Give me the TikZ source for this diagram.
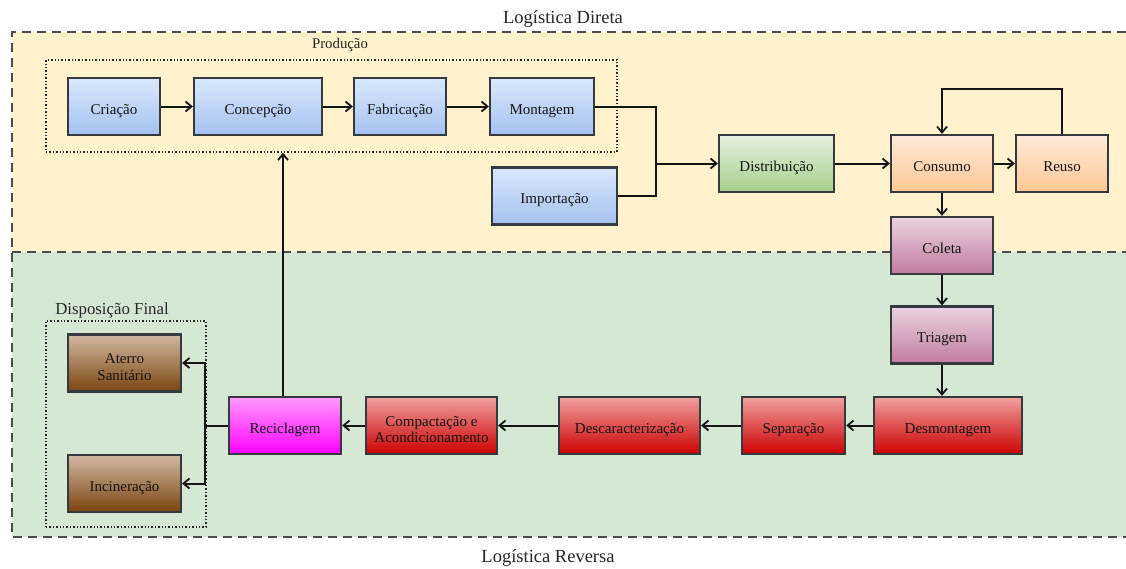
\documentclass[tikz,border=0pt]{standalone}
\usepackage{fontspec}
\setmainfont{Liberation Serif}
\usetikzlibrary{arrows.meta}
\definecolor{bordc}{HTML}{36393D}
\definecolor{yelbg}{HTML}{FFF2CC}
\definecolor{grnbg}{HTML}{D5E8D4}
\definecolor{bluet}{HTML}{DAE8FC}
\definecolor{blueb}{HTML}{A4C2F0}
\definecolor{grnt}{HTML}{E4F0DF}
\definecolor{grnb}{HTML}{A8D08D}
\definecolor{orat}{HTML}{FFEBD9}
\definecolor{orab}{HTML}{FFC794}
\definecolor{purt}{HTML}{EAD3E2}
\definecolor{purb}{HTML}{C27BA0}
\definecolor{redt}{HTML}{F0A0A0}
\definecolor{redb}{HTML}{CC0000}
\definecolor{brnt}{HTML}{D2B8A2}
\definecolor{brnb}{HTML}{7A4510}
\definecolor{magt}{HTML}{FF9CFF}
\definecolor{magb}{HTML}{FF00FF}
\newcommand{\twolines}[2]{\raisebox{-5.5pt}[\height][\depth]{\begin{tabular}{@{}c@{}}#1\\#2\end{tabular}}}
\tikzset{
  box/.style={draw=bordc, line width=2.2pt, inner sep=1pt, align=center,
    font=\fontsize{15}{16.5}\selectfont, text=black!92},
  one/.style={text height=15pt, text depth=0pt},
  bluebox/.style={box, top color=bluet, bottom color=blueb},
  greenbox/.style={box, top color=grnt, bottom color=grnb},
  orangebox/.style={box, top color=orat, bottom color=orab},
  purplebox/.style={box, top color=purt, bottom color=purb},
  redbox/.style={box, top color=redt, bottom color=redb},
  brownbox/.style={box, top color=brnt, bottom color=brnb},
  magbox/.style={box, top color=magt, bottom color=magb},
  dotbox/.style={draw=black!85, line width=1.4pt, dotted, inner sep=0pt},
  zone/.style={draw=black!70, line width=1.8pt, dash pattern=on 9pt off 6pt},
  arr/.style={line width=2pt, draw=black!92, -{Straight Barb[length=6pt,width=10pt,line width=1.8pt]}},
  ln/.style={line width=2pt, draw=black!92},
  lbl/.style={font=\fontsize{14.8}{16}\selectfont, text=black!85, inner sep=0pt},
  title/.style={font=\fontsize{18.5}{20}\selectfont, text=black!85, inner sep=0pt}
}
\begin{document}
\begin{tikzpicture}[x=1pt,y=-1pt]
\useasboundingbox (0,0) rectangle (1126,568);
% zones
\fill[yelbg] (12,32) rectangle (1126,252);
\fill[grnbg] (12,252) rectangle (1126,537);
\draw[zone] (1126,32) -- (12,32) -- (12,537) -- (1126,537);
\draw[zone] (12,252) -- (1126,252);
\node[title] (tdir) at (563,19) {Logística Direta};
\node[title] (trev) at (548,558) {Logística Reversa};
% production group
\node[dotbox, minimum width=571pt, minimum height=92pt] (prod) at (331.5,106) {};
\node[lbl] (lprod) at (340,45) {Produção};
\node[bluebox, one, minimum width=92pt, minimum height=57pt] (cri) at (114,106.5) {Criação};
\node[bluebox, one, minimum width=128pt, minimum height=57pt] (con) at (258,106.5) {Concepção};
\node[bluebox, one, minimum width=92pt, minimum height=57pt] (fab) at (400,106.5) {Fabricação};
\node[bluebox, one, minimum width=104pt, minimum height=57pt] (mon) at (542,106.5) {Montagem};
\node[bluebox, one, minimum width=125pt, minimum height=57pt] (imp) at (554.5,196) {Importação};
\node[greenbox, one, minimum width=115pt, minimum height=57pt] (dis) at (776.5,163.5) {Distribuição};
\node[orangebox, one, minimum width=102pt, minimum height=57pt] (cons) at (942,163.5) {Consumo};
\node[orangebox, one, minimum width=92pt, minimum height=57pt] (reu) at (1062,163.5) {Reuso};
\node[purplebox, one, minimum width=102pt, minimum height=57pt] (col) at (942,245.5) {Coleta};
\node[purplebox, one, minimum width=102pt, minimum height=57pt] (tri) at (942,335) {Triagem};
\node[redbox, one, minimum width=148pt, minimum height=57pt] (desm) at (948,425.5) {Desmontagem};
\node[redbox, one, minimum width=103pt, minimum height=57pt] (sep) at (793.5,425.5) {Separação};
\node[redbox, one, minimum width=141pt, minimum height=57pt] (desc) at (629.5,425.5) {Descaracterização};
\node[redbox, minimum width=131pt, minimum height=57pt] (comp) at (431.5,425.5) {\twolines{Compactação e}{Acondicionamento}};
\node[magbox, one, minimum width=112pt, minimum height=57pt] (rec) at (285,425.5) {Reciclagem};
% disposal group
\node[dotbox, minimum width=160pt, minimum height=206pt] (disp) at (126,424) {};
\node[lbl, font=\fontsize{16.8}{18}\selectfont] (ldisp) at (112,310) {Disposição Final};
\node[brownbox, minimum width=113pt, minimum height=57pt] (ate) at (124.5,363) {\twolines{Aterro}{Sanitário}};
\node[brownbox, one, minimum width=113pt, minimum height=57pt] (inc) at (124.5,483.5) {Incineração};
% connectors
\draw[arr] (cri) -- (con);
\draw[arr] (con) -- (fab);
\draw[arr] (fab) -- (mon);
\coordinate (j) at (656,163.5);
\draw[ln] (mon.east) -| (j);
\draw[ln] (imp.east) -| (j);
\draw[arr] (j) -- (dis.west);
\draw[arr] (dis) -- (cons);
\draw[arr] (cons) -- (reu);
\coordinate (lt) at (1062,89);
\draw[arr] (reu.north) -- (lt) -| (cons.north);
\draw[arr] (cons) -- (col);
\draw[arr] (col) -- (tri);
\draw[arr] (tri.south) -- (tri.south |- desm.north);
\draw[arr] (desm) -- (sep);
\draw[arr] (sep) -- (desc);
\draw[arr] (desc) -- (comp);
\draw[arr] (comp) -- (rec);
\draw[arr] ([xshift=-2pt]rec.north) -- ([xshift=-2pt]rec.north |- prod.south);
\coordinate (br) at (205,425.5);
\draw[ln] (rec.west) -- (br);
\draw[arr] (br) |- (ate.east);
\draw[arr] (br) |- (inc.east);
\end{tikzpicture}
\end{document}
